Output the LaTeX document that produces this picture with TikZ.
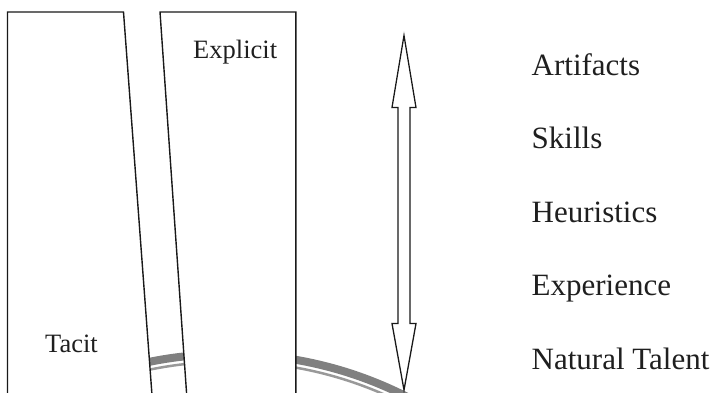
\documentclass[tikz,border=0pt]{standalone}
\usepackage{fontspec}
\setmainfont{Liberation Serif}
\begin{document}
\begin{tikzpicture}[x=1pt,y=-1pt,
  box/.style={draw=black!90, line width=1.4pt, fill=white, line join=miter},
  dblarrow/.style={draw=black!90, line width=1.3pt, fill=white, line join=miter},
  band/.style={black!50, line width=8pt},
  bandline/.style={black!40, line width=2.5pt},
  sidelbl/.style={anchor=base west, inner sep=0pt, font=\fontsize{26.5}{30}\selectfont, text=black!88},
  lvl/.style={anchor=base west, inner sep=0pt, font=\fontsize{31}{36}\selectfont, text=black!88}]
\useasboundingbox (0,0) rectangle (720,392);
\clip (0,0) rectangle (720,392);
\coordinate (c) at (228,749);
\draw[band] (c) circle[radius=395];
\draw[bandline] (c) circle[radius=387.3];
\draw[box] (7.5,12) -- (123.5,12) -- (152,395) -- (7.5,395) -- cycle;
\draw[box] (160,12) -- (295.8,12) -- (295.8,395) -- (186.7,395) -- cycle;
\draw[dblarrow] (404,35.5) -- (416,107.5) -- (410,107.5) -- (410,323.5) -- (416,323.5)
  -- (404,390) -- (392,323.5) -- (398,323.5) -- (398,107.5) -- (392,107.5) -- cycle;
\node[sidelbl] (explicit) at (193,58) {Explicit};
\node[sidelbl] (tacit) at (45,352.7) {Tacit};
\node[lvl] (artifacts) at (531.5,75) {Artifacts};
\node[lvl] (skills) at (531.5,148.5) {Skills};
\node[lvl] (heuristics) at (531.5,222) {Heuristics};
\node[lvl] (experience) at (531.5,295.5) {Experience};
\node[lvl] (talent) at (531.5,369) {Natural Talent};
\end{tikzpicture}
\end{document}
